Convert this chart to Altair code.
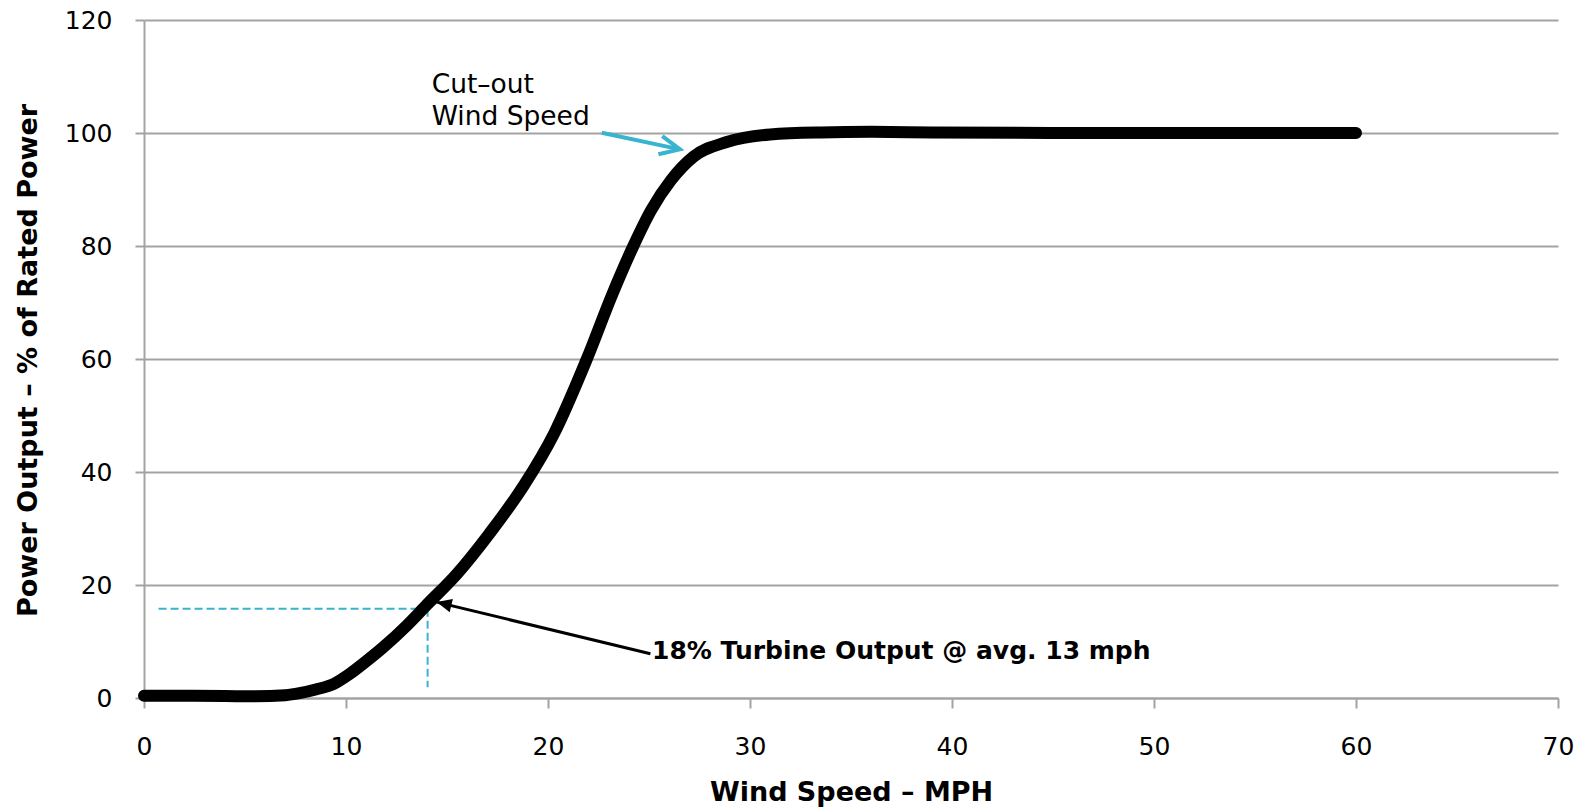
import altair as alt
import pandas as pd

# Power curve (wind speed mph -> % rated power)
curve_x = [0, 2, 4, 5.5, 7, 7.7, 8.5, 9.4, 10.2, 11, 11.85, 13, 14, 15.5, 17.1, 18.8,
           20.3, 21.9, 23.2, 24.2, 25.1, 26.1, 27.2, 28.85, 31, 33.5, 36, 39, 45, 50, 55, 60]
curve_y = [0.4, 0.4, 0.35, 0.3, 0.5, 0.85, 1.5, 2.5, 4.3, 6.5, 9.0, 12.8, 16.5, 22.0, 29.1, 37.6,
           46.8, 59.8, 71.6, 79.8, 86.3, 91.7, 95.8, 98.4, 99.75, 100.1, 100.2, 100.1, 100, 100, 100, 100]

x_ticks = [0, 10, 20, 30, 40, 50, 60, 70]
y_ticks = [0, 20, 40, 60, 80, 100, 120]

# dashed guide lines (reading of 13-14 mph)
guide_h = {"x": [0.72], "x2": [14.04], "y": [15.8]}
guide_v = {"x": [14.04], "y": [15.8], "y2": [1.9]}

# annotation arrows: tail -> tip
cut_arrow = {"x": [22.66], "y": [100.04], "x2": [26.53], "y2": [97.1]}
out_arrow = {"x": [25.07], "y": [7.83], "x2": [14.49], "y2": [16.97]}

cut_text = {"x": [14.24, 14.24], "y": [107.0, 101.4], "t": ["Cut\u2013out", "Wind Speed"]}
out_text = {"x": [25.15], "y": [6.94], "t": ["18% Turbine Output @ avg. 13 mph"]}

CYAN = "#38B3D0"
GRID = "#A3A3A3"
FONT = "DejaVu Sans"

xs = alt.Scale(domain=[0, 70], nice=False)
ys = alt.Scale(domain=[0, 120], nice=False)

curve_df = pd.DataFrame({"x": curve_x, "y": curve_y})

base_x = alt.X("x:Q", scale=xs, axis=alt.Axis(
    values=x_ticks, title="Wind Speed \u2013 MPH", grid=False, labelFlush=False,
    domainColor=GRID, domainWidth=2, tickColor=GRID, tickWidth=2, tickSize=10,
    labelFontSize=25, labelColor="black", labelFont=FONT, labelPadding=26,
    titleFontSize=27, titleFont=FONT, titleFontWeight="bold", titleColor="black",
    titleBaseline="alphabetic", titleY=102, titleX=707, titleAnchor="middle"))
base_y = alt.Y("y:Q", scale=ys, axis=alt.Axis(
    values=y_ticks, title="Power Output \u2013 % of Rated Power", grid=True, labelFlush=False,
    gridColor=GRID, gridWidth=2, domainColor=GRID, domainWidth=2,
    tickColor=GRID, tickWidth=2, tickSize=9,
    labelFontSize=25, labelColor="black", labelFont=FONT, labelPadding=23,
    titleFontSize=27, titleFont=FONT, titleFontWeight="bold", titleColor="black",
    titleBaseline="alphabetic", titleAngle=-90, titleX=-108, titleY=340))

line = alt.Chart(curve_df).mark_line(
    color="black", strokeWidth=12, strokeCap="round", strokeJoin="round",
    interpolate="monotone").encode(x=base_x, y=base_y)

gh = alt.Chart(pd.DataFrame(guide_h)).mark_rule(
    color=CYAN, strokeWidth=2, strokeDash=[8, 4]).encode(
    x=alt.X("x:Q", scale=xs), x2="x2:Q", y=alt.Y("y:Q", scale=ys))
gv = alt.Chart(pd.DataFrame(guide_v)).mark_rule(
    color=CYAN, strokeWidth=2, strokeDash=[8, 4]).encode(
    x=alt.X("x:Q", scale=xs), y=alt.Y("y:Q", scale=ys), y2="y2:Q")

cut_shaft = alt.Chart(pd.DataFrame(cut_arrow)).mark_rule(
    color=CYAN, strokeWidth=4).encode(
    x=alt.X("x:Q", scale=xs), y=alt.Y("y:Q", scale=ys), x2="x2:Q", y2="y2:Q")
cut_head = alt.Chart(pd.DataFrame(cut_arrow)).mark_point(
    shape="M-0.465,1L0,0L0.465,1", size=1600, angle=102, filled=False,
    stroke=CYAN, strokeWidth=4, opacity=1).encode(
    x=alt.X("x2:Q", scale=xs), y=alt.Y("y2:Q", scale=ys))

out_shaft = alt.Chart(pd.DataFrame(out_arrow)).mark_rule(
    color="black", strokeWidth=3).encode(
    x=alt.X("x:Q", scale=xs), y=alt.Y("y:Q", scale=ys), x2="x2:Q", y2="y2:Q")
out_head = alt.Chart(pd.DataFrame(out_arrow)).mark_point(
    shape="M0,0L0.45,1L-0.45,1Z", size=900, angle=283.6, filled=True,
    color="black", opacity=1).encode(
    x=alt.X("x2:Q", scale=xs), y=alt.Y("y2:Q", scale=ys))

cut_lbl = alt.Chart(pd.DataFrame(cut_text)).mark_text(
    align="left", baseline="alphabetic", fontSize=26.5, font=FONT, color="black").encode(
    x=alt.X("x:Q", scale=xs), y=alt.Y("y:Q", scale=ys), text="t:N")
out_lbl = alt.Chart(pd.DataFrame(out_text)).mark_text(
    align="left", baseline="alphabetic", fontSize=25, font=FONT, fontWeight="bold",
    color="black").encode(
    x=alt.X("x:Q", scale=xs), y=alt.Y("y:Q", scale=ys), text="t:N")

chart = alt.layer(gh, gv, line, cut_shaft, cut_head, out_shaft, out_head, cut_lbl, out_lbl).properties(
    width=1414, height=678,
    autosize=alt.AutoSizeParams(type="none"),
    padding={"left": 144, "top": 20, "right": 27, "bottom": 113},
    background="white",
).configure_view(stroke=None)

chart.save("out.html", embed_options={"renderer": "svg", "actions": False})
